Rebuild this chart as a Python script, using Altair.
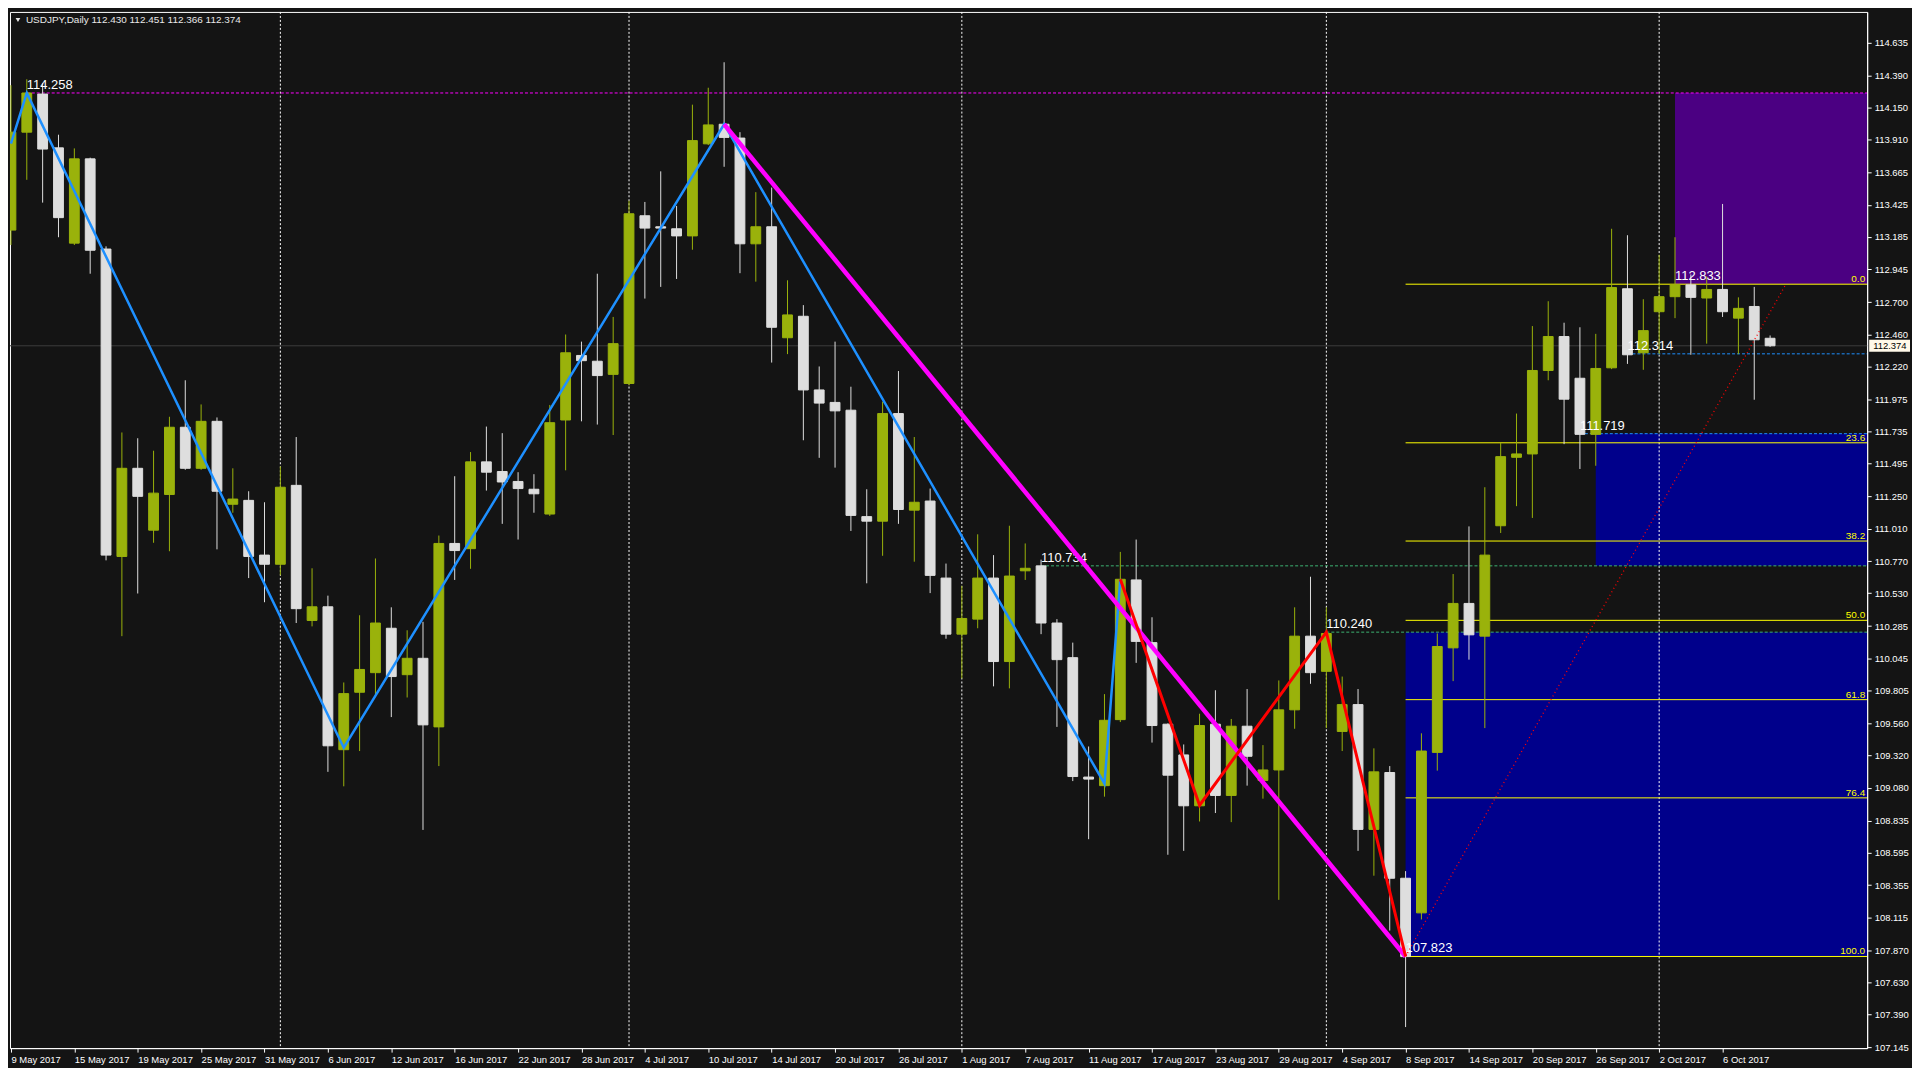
import altair as alt
import pandas as pd

# ---------------- data ----------------
opens = [113.236, 113.966, 114.250, 113.849, 113.139, 113.767, 113.095, 110.804, 111.461, 111.000,
         111.266, 111.767, 111.461, 111.811, 111.193, 111.222, 110.814, 110.746, 111.334, 110.327,
         110.429, 109.364, 109.792, 109.938, 110.269, 109.923, 110.045, 109.534, 110.901, 110.862,
         111.509, 111.437, 111.363, 111.305, 111.120, 111.821, 112.302, 112.259, 112.161, 112.093,
         113.343, 113.261, 113.246, 113.193, 113.879, 114.025, 113.922, 113.134, 113.261, 112.434,
         112.594, 112.045, 111.952, 111.894, 111.101, 111.067, 111.869, 111.149, 111.217, 110.643,
         110.225, 110.337, 110.643, 110.021, 110.697, 110.734, 110.308, 110.050, 109.160, 109.096,
         109.588, 110.629, 110.162, 109.554, 109.325, 108.946, 109.554, 109.023, 109.539, 109.135,
         109.213, 109.661, 110.210, 109.948, 109.500, 109.700, 108.770, 109.194, 108.406, 108.148,
         109.344, 110.123, 110.454, 110.210, 111.033, 111.543, 111.568, 112.190, 112.443, 112.132,
         111.714, 112.210, 112.799, 112.322, 112.628, 112.740, 112.828, 112.730, 112.794, 112.580,
         112.667, 112.430]
highs = [114.316, 114.360, 114.330, 113.947, 113.845, 113.776, 113.115, 111.728, 111.685, 111.592,
         111.845, 112.117, 111.937, 111.840, 111.461, 111.290, 111.208, 111.475, 111.694, 110.716,
         110.512, 109.865, 110.366, 110.789, 110.425, 110.254, 110.317, 110.960, 111.402, 111.582,
         111.772, 111.723, 111.432, 111.417, 111.933, 112.458, 112.405, 112.911, 112.589, 113.455,
         113.446, 113.674, 113.416, 114.171, 114.297, 114.487, 113.966, 113.519, 113.553, 112.862,
         112.677, 112.220, 112.405, 112.069, 111.305, 111.957, 112.186, 111.694, 111.310, 110.751,
         110.585, 110.969, 110.814, 111.033, 110.901, 110.780, 110.337, 110.162, 109.388, 109.778,
         110.838, 110.930, 110.351, 109.560, 109.403, 109.632, 109.807, 109.593, 109.816, 109.398,
         109.880, 110.425, 110.653, 110.425, 109.909, 109.816, 109.374, 109.242, 108.459, 109.486,
         110.230, 110.673, 111.028, 111.320, 111.650, 111.869, 112.521, 112.706, 112.546, 112.512,
         112.463, 113.246, 113.198, 112.721, 113.052, 113.183, 112.906, 112.891, 113.431, 112.735,
         112.813, 112.451]
lows = [113.125, 113.611, 113.441, 113.183, 113.125, 112.911, 110.775, 110.210, 110.528, 110.906,
        110.843, 111.450, 111.450, 110.857, 111.130, 110.643, 110.463, 110.663, 110.308, 110.283,
        109.199, 109.091, 109.354, 109.768, 109.607, 109.753, 108.766, 109.242, 110.629, 110.712,
        111.295, 111.047, 110.930, 111.130, 111.106, 111.446, 111.811, 111.787, 111.709, 112.079,
        112.726, 112.813, 112.872, 113.090, 113.870, 113.708, 112.915, 112.852, 112.249, 112.312,
        111.670, 111.539, 111.466, 110.994, 110.604, 110.809, 111.047, 110.765, 110.531, 110.191,
        109.894, 110.269, 109.836, 109.821, 110.629, 110.225, 109.534, 109.130, 108.697, 109.014,
        109.570, 110.011, 109.417, 108.581, 108.610, 108.829, 108.892, 108.824, 109.096, 108.999,
        108.245, 109.520, 109.855, 109.525, 109.354, 108.610, 108.425, 108.016, 107.297, 108.099,
        109.208, 109.875, 110.035, 109.525, 110.979, 111.179, 111.091, 112.117, 111.641, 111.456,
        111.480, 112.200, 112.239, 112.195, 112.313, 112.580, 112.307, 112.390, 112.589, 112.312,
        111.972, 112.366]
closes = [113.966, 114.258, 113.840, 113.329, 113.767, 113.086, 110.814, 111.461, 111.252, 111.276,
          111.767, 111.461, 111.811, 111.290, 111.232, 110.804, 110.746, 111.320, 110.415, 110.429,
          109.393, 109.782, 109.962, 110.308, 109.909, 110.045, 109.549, 110.901, 110.848, 111.509,
          111.432, 111.359, 111.310, 111.271, 111.801, 112.322, 112.263, 112.152, 112.390, 113.358,
          113.251, 113.251, 113.193, 113.903, 114.020, 113.927, 113.134, 113.261, 112.512, 112.604,
          112.045, 111.947, 111.889, 111.110, 111.067, 111.869, 111.154, 111.208, 110.663, 110.225,
          110.342, 110.643, 110.021, 110.658, 110.716, 110.308, 110.035, 109.164, 109.145, 109.583,
          110.634, 110.171, 109.544, 109.174, 108.946, 109.544, 109.023, 109.539, 109.315, 109.213,
          109.661, 110.210, 109.938, 110.230, 109.700, 108.770, 109.199, 108.406, 107.822, 109.354,
          110.133, 110.454, 110.220, 110.814, 111.548, 111.568, 112.190, 112.443, 111.976, 111.714,
          112.205, 112.808, 112.307, 112.487, 112.740, 112.828, 112.735, 112.794, 112.628, 112.653,
          112.419, 112.374]

tick_idx = list(range(0, 109, 4))
tick_labels = ['9 May 2017', '15 May 2017', '19 May 2017', '25 May 2017', '31 May 2017',
               '6 Jun 2017', '12 Jun 2017', '16 Jun 2017', '22 Jun 2017', '28 Jun 2017',
               '4 Jul 2017', '10 Jul 2017', '14 Jul 2017', '20 Jul 2017', '26 Jul 2017',
               '1 Aug 2017', '7 Aug 2017', '11 Aug 2017', '17 Aug 2017', '23 Aug 2017',
               '29 Aug 2017', '4 Sep 2017', '8 Sep 2017', '14 Sep 2017', '20 Sep 2017',
               '26 Sep 2017', '2 Oct 2017', '6 Oct 2017']
price_ticks = [114.635, 114.390, 114.150, 113.910, 113.665, 113.425, 113.185, 112.945, 112.700,
               112.460, 112.220, 111.975, 111.735, 111.495, 111.250, 111.010, 110.770, 110.530,
               110.285, 110.045, 109.805, 109.560, 109.320, 109.080, 108.835, 108.595, 108.355,
               108.115, 107.870, 107.630, 107.390, 107.145]
sep_idx = [17, 39, 60, 83, 104]

blue_zz_i = [0, 1, 21, 45, 69, 70]
blue_zz_p = [113.880, 114.258, 109.379, 114.025, 109.111, 110.634]
magenta_i = [45, 88]
magenta_p = [114.025, 107.823]
red_zz_i = [70, 75, 83, 88]
red_zz_p = [110.634, 108.950, 110.240, 107.823]
dot_i = [88, 112]
dot_p = [107.823, 112.833]

fib_levels = ['0.0', '23.6', '38.2', '50.0', '61.8', '76.4', '100.0']
fib_prices = [112.833, 111.651, 110.919, 110.328, 109.737, 109.005, 107.823]
fib_start = 88

zone_start = [88, 100, 105]
zone_top = [110.240, 111.719, 114.258]
zone_bottom = [107.823, 110.734, 112.833]
zone_colors = ['#00008B', '#00008B', '#4B0082']

hl_start = [1, 65, 83, 102, 99]
hl_price = [114.258, 110.734, 110.240, 112.314, 111.719]
hl_color = ['#FF00FF', '#3CB371', '#3CB371', '#1E90FF', '#1E90FF']

lbl_text = ['114.258', '110.734', '110.240', '107.823', '112.833', '112.314', '111.719']
lbl_i = [1, 65, 83, 88, 105, 102, 99]
lbl_p = [114.258, 110.734, 110.240, 107.823, 112.833, 112.314, 111.719]

last_price = 112.374
header_text = 'USDJPY,Daily  112.430 112.451 112.366 112.374'

# ---------------- layout / style ----------------
W, H = 1864, 1040
X_MIN, X_MAX = -0.06, 117.125
Y_MIN, Y_MAX = 107.14, 114.862
BG = '#141414'
UP = '#9AB20B'
DOWN = '#DEDEDE'
FONT = 'Liberation Sans'

candles = pd.DataFrame({'i': list(range(len(opens))), 'o': opens, 'h': highs, 'l': lows, 'c': closes})
candles['col'] = [UP if c >= o else DOWN for o, c in zip(opens, closes)]
candles['lo'] = candles[['o', 'c']].min(axis=1)
candles['hi'] = candles[['o', 'c']].max(axis=1)

zones = pd.DataFrame({'s': zone_start, 'top': zone_top, 'bot': zone_bottom, 'col': zone_colors})
zones['e'] = X_MAX
hlines = pd.DataFrame({'s': hl_start, 'p': hl_price, 'col': hl_color})
hlines['e'] = X_MAX
fib = pd.DataFrame({'lvl': fib_levels, 'p': fib_prices})
fib['s'] = fib_start
fib['e'] = X_MAX
labels = pd.DataFrame({'t': lbl_text, 'i': lbl_i, 'p': lbl_p})
seps = pd.DataFrame({'i': sep_idx})
last_df = pd.DataFrame({'p': [last_price], 't': [f'{last_price:.3f}']})

label_expr = ''.join(f"datum.value == {k} ? '{t}' : " for k, t in zip(tick_idx, tick_labels)) + "''"

xs = alt.Scale(domain=[X_MIN, X_MAX], nice=False, zero=False)
ys = alt.Scale(domain=[Y_MIN, Y_MAX], nice=False, zero=False)
x_axis = alt.Axis(values=tick_idx, labelExpr=label_expr, orient='bottom', grid=False,
                  domainColor='#FFFFFF', tickColor='#FFFFFF', tickSize=4,
                  labelColor='#FFFFFF', labelFont=FONT, labelFontSize=9.5,
                  labelAlign='left', labelBaseline='top', labelPadding=2,
                  labelOverlap=False, labelFlush=False, title=None)
y_axis = alt.Axis(values=price_ticks, format='.3f', orient='right', grid=False,
                  domainColor='#FFFFFF', tickColor='#FFFFFF', tickSize=4,
                  labelColor='#FFFFFF', labelFont=FONT, labelFontSize=9.5,
                  labelPadding=3, labelOverlap=False, labelFlush=False,
                  labelBaseline='middle', title=None)


def X(f):
    return alt.X(f, type='quantitative', scale=xs, axis=x_axis)


def Y(f):
    return alt.Y(f, type='quantitative', scale=ys, axis=y_axis)


zone_layer = alt.Chart(zones).mark_rect(clip=True).encode(
    x=X('s'), x2=alt.X2('e'), y=Y('top'), y2=alt.Y2('bot'),
    color=alt.Color('col:N', scale=None))

sep_layer = alt.Chart(seps).mark_rule(color='#FFFFFF', strokeDash=[2, 2], strokeWidth=1).encode(
    x=X('i'))

last_line = alt.Chart(last_df).mark_rule(color='#3C3C3C', strokeWidth=1).encode(y=Y('p'))

hline_layer = alt.Chart(hlines).mark_rule(strokeDash=[3, 2], strokeWidth=1, clip=True).encode(
    x=X('s'), x2=alt.X2('e'), y=Y('p'), color=alt.Color('col:N', scale=None))

fib_layer = alt.Chart(fib).mark_rule(color='#FFFF00', strokeWidth=1, clip=True).encode(
    x=X('s'), x2=alt.X2('e'), y=Y('p'))

wick_layer = alt.Chart(candles).mark_rule(strokeWidth=1, clip=True).encode(
    x=X('i'), y=Y('l'), y2=alt.Y2('h'), color=alt.Color('col:N', scale=None))

body_layer = alt.Chart(candles).transform_calculate(
    x0='datum.i - 0.31', x1='datum.i + 0.31'
).mark_rect(strokeWidth=1, clip=True).encode(
    x=X('x0:Q'), x2=alt.X2('x1:Q'), y=Y('lo'), y2=alt.Y2('hi'),
    color=alt.Color('col:N', scale=None), stroke=alt.Stroke('col:N', scale=None))

label_layer = alt.Chart(labels).mark_text(align='left', baseline='alphabetic', dy=-4,
                                          color='#FFFFFF', font=FONT, fontSize=13).encode(
    x=X('i'), y=Y('p'), text='t:N')

blue_layer = alt.Chart(pd.DataFrame({'i': blue_zz_i, 'p': blue_zz_p})).mark_line(
    color='#1E90FF', strokeWidth=2.5, clip=True).encode(x=X('i'), y=Y('p'), order='i:Q')
magenta_layer = alt.Chart(pd.DataFrame({'i': magenta_i, 'p': magenta_p})).mark_line(
    color='#FF00FF', strokeWidth=4.5, clip=True).encode(x=X('i'), y=Y('p'), order='i:Q')
red_layer = alt.Chart(pd.DataFrame({'i': red_zz_i, 'p': red_zz_p})).mark_line(
    color='#FF0000', strokeWidth=3, clip=True).encode(x=X('i'), y=Y('p'), order='i:Q')
dot_layer = alt.Chart(pd.DataFrame({'i': dot_i, 'p': dot_p})).mark_line(
    color='#FF0000', strokeWidth=1.3, strokeDash=[1, 3], clip=True).encode(
    x=X('i'), y=Y('p'), order='i:Q')

fib_text = alt.Chart(fib).mark_text(align='right', baseline='alphabetic', dx=-2, dy=-2,
                                    color='#FFFF00', font=FONT, fontSize=10).encode(
    x=X('e'), y=Y('p'), text='lvl:N')

price_box = alt.Chart(last_df).transform_calculate(
    p_lo='datum.p - 0.045', p_hi='datum.p + 0.045'
).mark_rect(color='#FFF8E8', clip=False).encode(
    x=alt.value(W + 2), x2=alt.value(W + 43), y=Y('p_lo:Q'), y2=alt.Y2('p_hi:Q'))
price_text = alt.Chart(last_df).mark_text(align='left', baseline='middle', color='#000000',
                                          font=FONT, fontSize=9.5, clip=False).encode(
    x=alt.value(W + 6), y=Y('p'), text='t:N')

header_df = pd.DataFrame({'t': [header_text]})
header_tri = alt.Chart(header_df).mark_point(shape='triangle-down', filled=True, size=22,
                                             color='#E8E8E8', opacity=1).encode(
    x=alt.value(8), y=alt.value(8))
header = alt.Chart(header_df).mark_text(align='left', baseline='middle', color='#E8E8E8',
                                        font=FONT, fontSize=10).encode(
    x=alt.value(16), y=alt.value(8), text='t:N')

chart = alt.layer(
    zone_layer, sep_layer, last_line, hline_layer, fib_layer,
    wick_layer, body_layer, label_layer, blue_layer, magenta_layer, red_layer, dot_layer,
    fib_text, price_box, price_text, header_tri, header
).properties(
    width=W, height=H, background=BG,
    padding={'left': 1, 'top': 1, 'right': 2, 'bottom': 2}
).configure_view(
    stroke='#FFFFFF', strokeWidth=1, fill=BG
)

chart.save("out.html", embed_options={"renderer": "svg", "actions": False})
